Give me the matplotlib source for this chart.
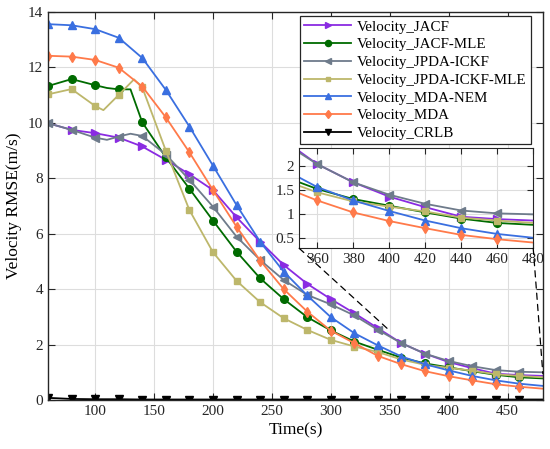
import numpy as np
import matplotlib
matplotlib.use('Agg')
import matplotlib.pyplot as plt
from matplotlib.ticker import FuncFormatter
from matplotlib.patches import ConnectionPatch

plt.rcParams['font.family'] = ['Liberation Serif', 'DejaVu Serif']

# time axis (s)
t = [60, 80, 100, 120, 140, 160, 180, 200, 220, 240, 260, 280, 300,
     320, 340, 360, 380, 400, 420, 440, 460, 480]

jacf = [9.98, 9.74, 9.62, 9.46, 9.14, 8.66, 8.14, 7.57, 6.59, 5.71, 4.87,
        4.19, 3.64, 3.13, 2.59, 2.05, 1.67, 1.37, 1.15, 0.95, 0.90, 0.87]
jacf_mle = [11.32, 11.57, 11.35, 11.20, 10.01, 8.75, 7.62, 6.47, 5.35, 4.39,
            3.64, 2.99, 2.51, 2.11, 1.81, 1.53, 1.32, 1.18, 1.04, 0.91, 0.82, 0.78]
jpda_ickf = [9.98, 9.74, 9.46, 9.50, 9.52, 8.85, 7.94, 6.97, 5.89, 5.05,
             4.33, 3.79, 3.45, 3.05, 2.53, 2.05, 1.67, 1.41, 1.22, 1.08, 1.02, 1.00]
jpda_mle = [11.02, 11.21, 10.60, 11.00, 11.27, 8.99, 6.85, 5.33, 4.30, 3.53,
            2.95, 2.53, 2.17, 1.93, 1.73, 1.46, 1.27, 1.16, 1.06, 0.93, 0.87, 0.82]
mda_nem = [13.55, 13.51, 13.37, 13.06, 12.33, 11.18, 9.86, 8.45, 7.03, 5.71,
           4.63, 3.77, 2.99, 2.41, 1.97, 1.57, 1.29, 1.07, 0.87, 0.71, 0.59, 0.51]
mda = [12.41, 12.38, 12.26, 11.98, 11.30, 10.19, 8.93, 7.57, 6.25, 5.03,
       4.00, 3.19, 2.50, 2.05, 1.59, 1.29, 1.04, 0.86, 0.71, 0.57, 0.48, 0.41]
crlb = [0.08, 0.04, 0.03, 0.03, 0.02, 0.02, 0.02, 0.02, 0.02, 0.02, 0.02,
        0.02, 0.02, 0.02, 0.02, 0.02, 0.02, 0.02, 0.02, 0.02, 0.02, 0.02]

# extra read-off points where curves bend between markers
extra = {
    'jacf_mle': ([110, 130], [11.25, 11.20]),
    'jpda_ickf': ([110, 130], [9.38, 9.60]),
    'jpda_mle': ([107, 133], [10.45, 11.56]),
}

series = [
    ('Velocity_JACF', jacf, None, '#8A2BE2', '>'),
    ('Velocity_JACF-MLE', jacf_mle, 'jacf_mle', '#006B00', 'o'),
    ('Velocity_JPDA-ICKF', jpda_ickf, 'jpda_ickf', '#6E7B8B', '<'),
    ('Velocity_JPDA-ICKF-MLE', jpda_mle, 'jpda_mle', '#BDB76B', 's'),
    ('Velocity_MDA-NEM', mda_nem, None, '#3A6FE0', '^'),
    ('Velocity_MDA', mda, None, '#FF7A4A', 'd'),
    ('Velocity_CRLB', crlb, None, '#000000', 'v'),
]


def build(vals, key):
    xs = list(t)
    ys = list(vals)
    if key is not None:
        ex, ey = extra[key]
        xs += ex
        ys += ey
    order = np.argsort(xs)
    xs = np.array(xs)[order]
    ys = np.array(ys)[order]
    mask = (xs % 20 == 0) & (xs <= 460)
    return xs, ys, mask


fig = plt.figure(figsize=(5.5, 4.49), dpi=100)
ax = fig.add_axes([0.0873, 0.109, 0.8997, 0.865])

for name, vals, key, col, mk in series:
    xs, ys, mask = build(vals, key)
    ms = 4 if mk == 's' else 5.5
    ax.plot(xs, ys, color=col, marker=mk, markersize=ms, markevery=list(mask),
            lw=1.3, label=name)

ax.set_xlim(60, 480)
ax.set_ylim(0, 14)
ax.set_xticks([100, 150, 200, 250, 300, 350, 400, 450])
ax.set_yticks([0, 2, 4, 6, 8, 10, 12, 14])
ax.grid(True, color='#DDDDDD', lw=0.8)
ax.set_axisbelow(True)
ax.tick_params(direction='in', top=True, right=True, labelsize=11, length=5,
               colors='#262626')
ax.set_xlabel('Time(s)', fontsize=12.5, labelpad=3)
ax.set_ylabel('Velocity RMSE(m/s)', fontsize=12.5, labelpad=4)
for sp in ax.spines.values():
    sp.set_linewidth(1.0)
    sp.set_color('#262626')

leg = ax.legend(loc='upper right', bbox_to_anchor=(0.9655, 0.965),
                bbox_transform=fig.transFigure, borderaxespad=0,
                fontsize=10.8, fancybox=False, edgecolor='#262626', framealpha=1,
                handlelength=3.1, labelspacing=0.28, borderpad=0.3,
                handletextpad=0.4, markerscale=0.8)
leg.get_frame().set_linewidth(0.9)

# zoomed inset
axin = fig.add_axes([0.544, 0.447, 0.4255, 0.2227])
for name, vals, key, col, mk in series:
    xs, ys, mask = build(vals, key)
    ms = 4 if mk == 's' else 5.5
    axin.plot(xs, ys, color=col, marker=mk, markersize=ms, markevery=list(mask),
              lw=1.3)
axin.set_xlim(350, 480)
axin.set_ylim(0.29, 2.38)
axin.set_xticks([360, 380, 400, 420, 440, 460, 480])
axin.set_yticks([0.5, 1, 1.5, 2])
axin.yaxis.set_major_formatter(FuncFormatter(lambda v, p: '%g' % v))
axin.grid(True, color='#DDDDDD', lw=0.8)
axin.tick_params(direction='in', top=True, right=True, labelsize=11, length=4,
                 colors='#262626')
for sp in axin.spines.values():
    sp.set_color('#262626')
axin.set_facecolor('white')

for xa, ya, xb, yb in [(0, 0, 350, 2.5), (1, 0, 480, 0.95)]:
    con = ConnectionPatch(xyA=(xa, ya), coordsA=axin.transAxes,
                          xyB=(xb, yb), coordsB=ax.transData,
                          color='black', lw=0.9, ls=(0, (5, 4)))
    fig.add_artist(con)

fig.savefig('out.png', dpi=100)
